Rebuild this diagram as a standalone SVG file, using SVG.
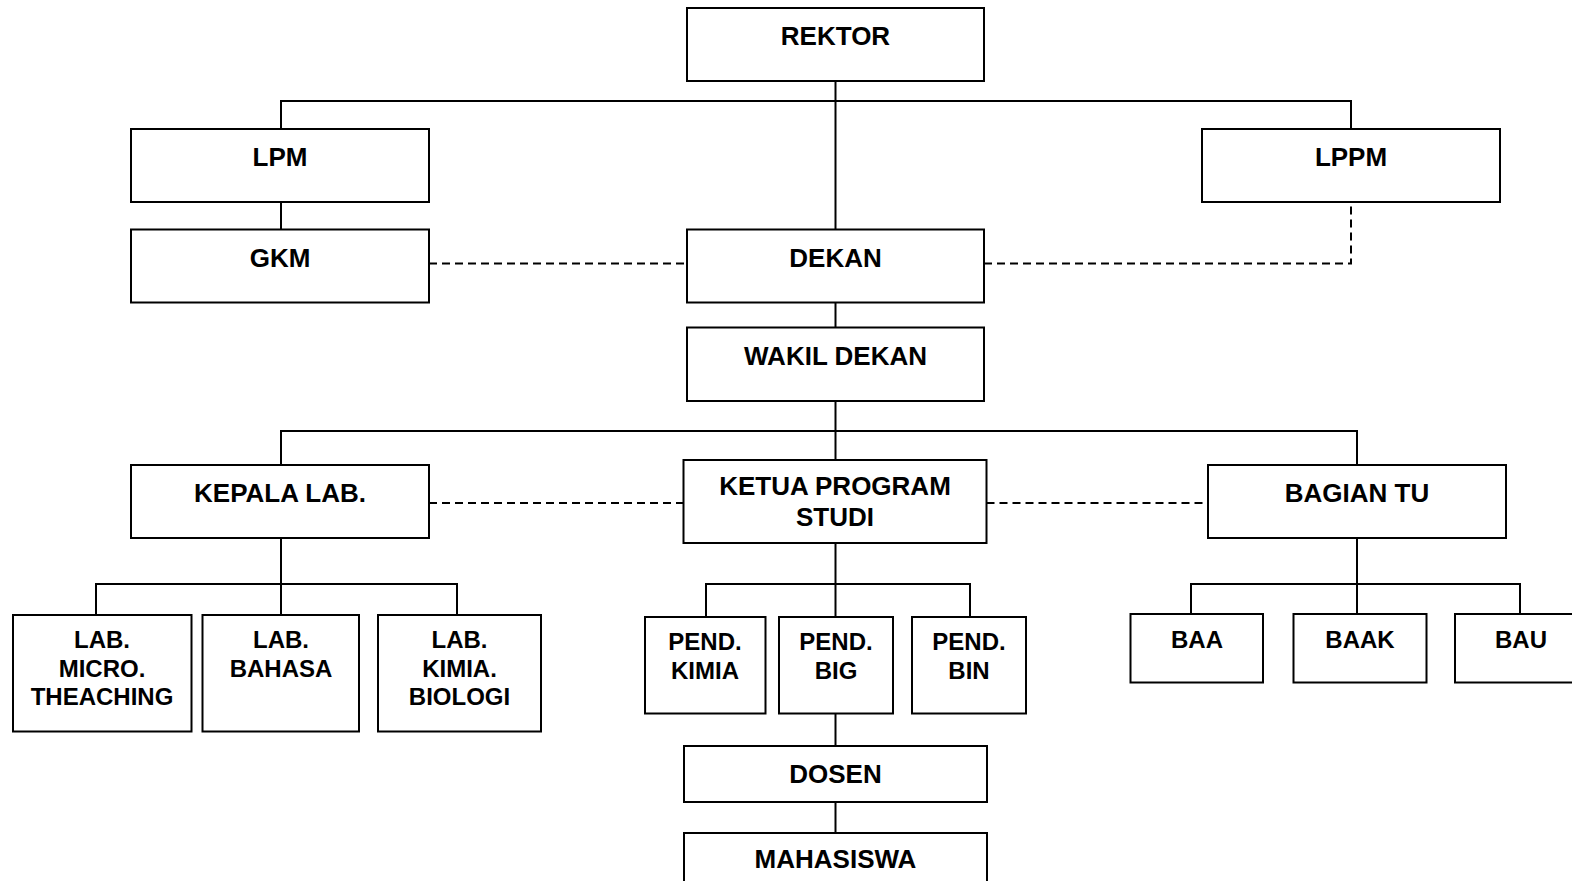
<svg xmlns="http://www.w3.org/2000/svg" width="1572" height="881" viewBox="0 0 1572 881">
<style>
rect{fill:#fff;stroke:#000;stroke-width:2}
.c line,.c path{stroke:#000;stroke-width:2;fill:none}
.c .d{stroke-dasharray:8 5}
text{font-family:"Liberation Sans",Arial,sans-serif;font-weight:bold;fill:#000;text-anchor:middle}
.L{font-size:26px}
.S{font-size:24px}
</style>
<rect x="0" y="0" width="1572" height="881" style="stroke:none"/>
<g class="c" id="connectors">
<line x1="835.5" y1="81" x2="835.5" y2="229.5"/>
<path d="M281 129V101H1351V129"/>
<line x1="281" y1="202" x2="281" y2="229.5"/>
<line class="d" x1="429" y1="263.5" x2="687" y2="263.5"/>
<path class="d" d="M984 263.5H1351V202"/>
<line x1="835.5" y1="302.5" x2="835.5" y2="327.5"/>
<line x1="835.5" y1="401" x2="835.5" y2="460"/>
<path d="M281 465V431H1357V465"/>
<line class="d" x1="429" y1="503" x2="683.5" y2="503"/>
<line class="d" x1="986.5" y1="503" x2="1208" y2="503"/>
<line x1="281" y1="538" x2="281" y2="615"/>
<path d="M96 615V584H457V615"/>
<line x1="835.5" y1="543" x2="835.5" y2="617"/>
<path d="M706 617V584H970V617"/>
<line x1="835.5" y1="714" x2="835.5" y2="746"/>
<line x1="835.5" y1="802" x2="835.5" y2="833"/>
<line x1="1357" y1="538" x2="1357" y2="614"/>
<path d="M1191 614V584H1520V614"/>
</g>
<g id="rektor"><rect x="687" y="8" width="297" height="73"/><text class="L" x="835.5" y="45">REKTOR</text></g>
<g id="lpm"><rect x="131" y="129" width="298" height="73"/><text class="L" x="280" y="166">LPM</text></g>
<g id="lppm"><rect x="1202" y="129" width="298" height="73"/><text class="L" x="1351" y="166">LPPM</text></g>
<g id="gkm"><rect x="131" y="229.5" width="298" height="73"/><text class="L" x="280" y="267">GKM</text></g>
<g id="dekan"><rect x="687" y="229.5" width="297" height="73"/><text class="L" x="835.5" y="267">DEKAN</text></g>
<g id="wakil"><rect x="687" y="327.5" width="297" height="73.5"/><text class="L" x="835.5" y="365">WAKIL DEKAN</text></g>
<g id="kepala"><rect x="131" y="465" width="298" height="73"/><text class="L" x="280" y="502">KEPALA LAB.</text></g>
<g id="ketua"><rect x="683.5" y="460" width="303" height="83"/><text class="L" x="835" y="495">KETUA PROGRAM</text><text class="L" x="835" y="526">STUDI</text></g>
<g id="bagian"><rect x="1208" y="465" width="298" height="73"/><text class="L" x="1357" y="502">BAGIAN TU</text></g>
<g id="labmicro"><rect x="13" y="615" width="178.5" height="116.5"/><text class="S" x="102" y="648">LAB.</text><text class="S" x="102" y="676.5">MICRO.</text><text class="S" x="102" y="705">THEACHING</text></g>
<g id="labbahasa"><rect x="202.5" y="615" width="156.5" height="116.5"/><text class="S" x="281" y="648">LAB.</text><text class="S" x="281" y="676.5">BAHASA</text></g>
<g id="labkimia"><rect x="378" y="615" width="163" height="116.5"/><text class="S" x="459.5" y="648">LAB.</text><text class="S" x="459.5" y="676.5">KIMIA.</text><text class="S" x="459.5" y="705">BIOLOGI</text></g>
<g id="pendkimia"><rect x="645" y="617" width="120.5" height="96.5"/><text class="S" x="705" y="650">PEND.</text><text class="S" x="705" y="679">KIMIA</text></g>
<g id="pendbig"><rect x="779" y="617" width="114" height="96.5"/><text class="S" x="836" y="650">PEND.</text><text class="S" x="836" y="679">BIG</text></g>
<g id="pendbin"><rect x="912" y="617" width="114" height="96.5"/><text class="S" x="969" y="650">PEND.</text><text class="S" x="969" y="679">BIN</text></g>
<g id="dosen"><rect x="684" y="746" width="303" height="56"/><text class="L" x="835.5" y="783">DOSEN</text></g>
<g id="mahasiswa"><rect x="684" y="833" width="303" height="60"/><text class="L" x="835.5" y="868">MAHASISWA</text></g>
<g id="baa"><rect x="1130.5" y="614" width="132.5" height="68.5"/><text class="S" x="1197" y="648">BAA</text></g>
<g id="baak"><rect x="1293.5" y="614" width="133" height="68.5"/><text class="S" x="1360" y="648">BAAK</text></g>
<g id="bau"><rect x="1455" y="614" width="133" height="68.5"/><text class="S" x="1521" y="648">BAU</text></g>
</svg>
